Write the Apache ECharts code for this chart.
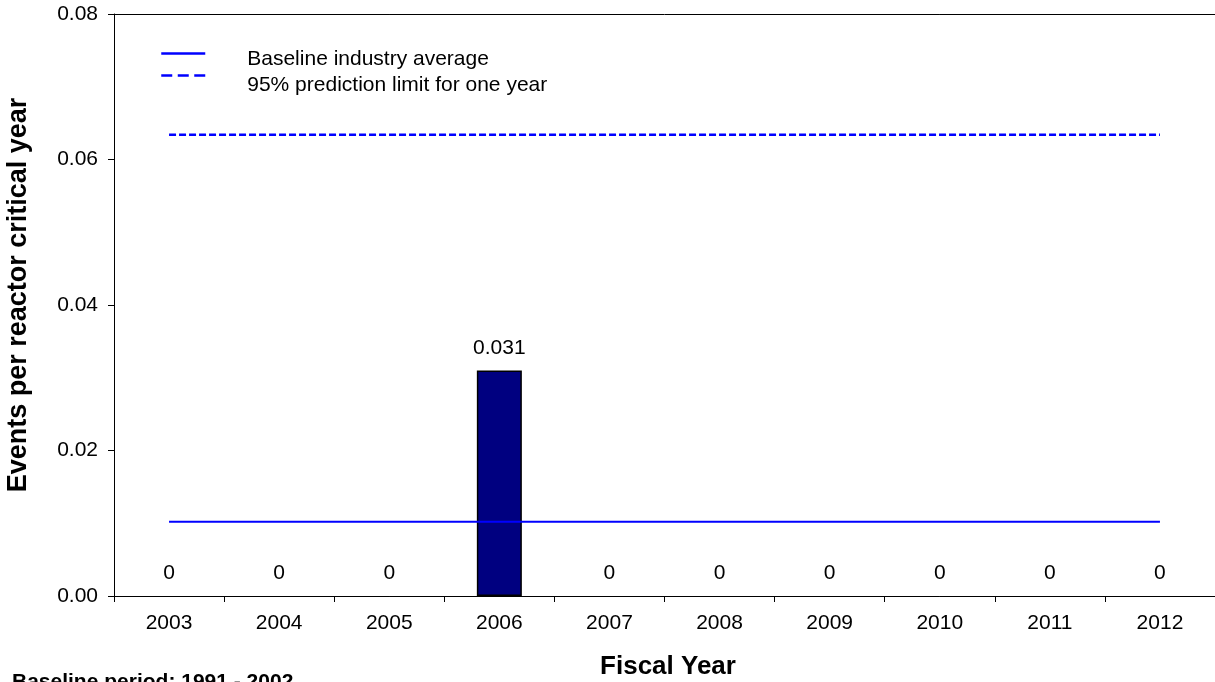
<!DOCTYPE html>
<html>
<head>
<meta charset="utf-8">
<script src="https://cdn.jsdelivr.net/npm/echarts@6/dist/echarts.min.js"></script>
<style>
html,body{margin:0;padding:0;background:#fff;}
#chart{width:1215px;height:682px;}
</style>
</head>
<body>
<div id="chart"></div>
<script>
const categories = ['2003','2004','2005','2006','2007','2008','2009','2010','2011','2012'];
const eventRates = [0, 0, 0, 0.031, 0, 0, 0, 0, 0, 0];
const baselineAverage = [0.0102,0.0102,0.0102,0.0102,0.0102,0.0102,0.0102,0.0102,0.0102,0.0102];
const predictionLimit = [0.0634,0.0634,0.0634,0.0634,0.0634,0.0634,0.0634,0.0634,0.0634,0.0634];
const yTicks = [0, 0.02, 0.04, 0.06, 0.08];

const FONT = "'Liberation Sans', Arial, sans-serif";
const legendBase = {
  orient: 'vertical', left: 155, itemWidth: 44, itemHeight: 14,
  itemStyle: {opacity: 0, borderWidth: 0},
  formatter: name => '\n' + name
};
const chart = echarts.init(document.getElementById('chart'), null, {renderer:'canvas'});
chart.setOption({
  animation: false,
  backgroundColor: '#fff',
  textStyle: {fontFamily: FONT},
  grid: {left: 114, top: 14, width: 1104, bottom: 86, show: false},
  legend: [
    Object.assign({}, legendBase, {
      top: 32,
      lineStyle: {width: 2.5, type: 'solid'},
      data: ['Baseline industry average'],
      textStyle: {fontFamily: FONT, fontSize: 21, lineHeight: 12, color: '#000', padding: [0,0,0,37]}
    }),
    Object.assign({}, legendBase, {
      top: 50,
      lineStyle: {width: 2.5, type: [11, 5.5]},
      data: ['95% prediction limit for one year'],
      textStyle: {fontFamily: FONT, fontSize: 21, lineHeight: 20, color: '#000', padding: [0,0,0,37]}
    })
  ],
  xAxis: [
    {
      type: 'category', data: categories, boundaryGap: true, position: 'bottom',
      axisLine: {show: true, lineStyle: {color: '#000', width: 1}},
      axisTick: {show: true, length: 6, lineStyle: {color: '#000'}, alignWithLabel: false},
      axisLabel: {color: '#000', fontSize: 21, fontFamily: FONT, margin: 17}
    },
    {
      type: 'category', data: categories, boundaryGap: true, position: 'top',
      axisLine: {show: true, onZero: false, lineStyle: {color: '#000', width: 1}},
      axisTick: {show: false}, axisLabel: {show: false}, splitLine: {show: false}
    }
  ],
  yAxis: {
    type: 'value', min: yTicks[0], max: yTicks[yTicks.length-1], interval: 0.02,
    axisLine: {show: true, lineStyle: {color: '#000', width: 1}},
    axisTick: {show: true, length: 6, inside: false, lineStyle: {color: '#000'}},
    splitLine: {show: false},
    axisLabel: {color: '#000', fontSize: 21, fontFamily: FONT, margin: 16, formatter: v => v.toFixed(2)}
  },
  series: [
    {
      name: 'Events', type: 'bar',
      data: eventRates.map(v => ({value: v, itemStyle: v === 0 ? {borderWidth: 0} : {}})),
      barWidth: 45,
      itemStyle: {color: '#000080', borderColor: '#000', borderWidth: 1.5},
      label: {show: true, position: 'top', distance: 12, color: '#000', fontSize: 21, fontFamily: FONT,
              formatter: p => String(p.value)},
      z: 2
    },
    {
      name: 'Baseline industry average', type: 'line', data: baselineAverage, symbol: 'none',
      lineStyle: {color: '#0000ff', width: 2, type: 'solid'}, itemStyle: {color: '#0000ff'}, z: 3
    },
    {
      name: '95% prediction limit for one year', type: 'line', data: predictionLimit, symbol: 'none',
      lineStyle: {color: '#0000ff', width: 2.5, type: [7, 3]}, itemStyle: {color: '#0000ff'}, z: 3
    }
  ],
  graphic: [
    {type: 'text', x: 19, y: 295, rotation: Math.PI/2,
     style: {text: 'Events per reactor critical year', font: "bold 27px " + FONT, fill: '#000', textAlign: 'center', textVerticalAlign: 'middle'}},
    {type: 'text', x: 668, y: 667,
     style: {text: 'Fiscal Year', font: "bold 26px " + FONT, fill: '#000', textAlign: 'center', textVerticalAlign: 'middle'}},
    {type: 'text', x: 12, y: 672,
     style: {text: 'Baseline period: 1991 - 2002', font: "bold 21px " + FONT, fill: '#000', textAlign: 'left', textVerticalAlign: 'top'}}
  ]
});
</script>
</body>
</html>
